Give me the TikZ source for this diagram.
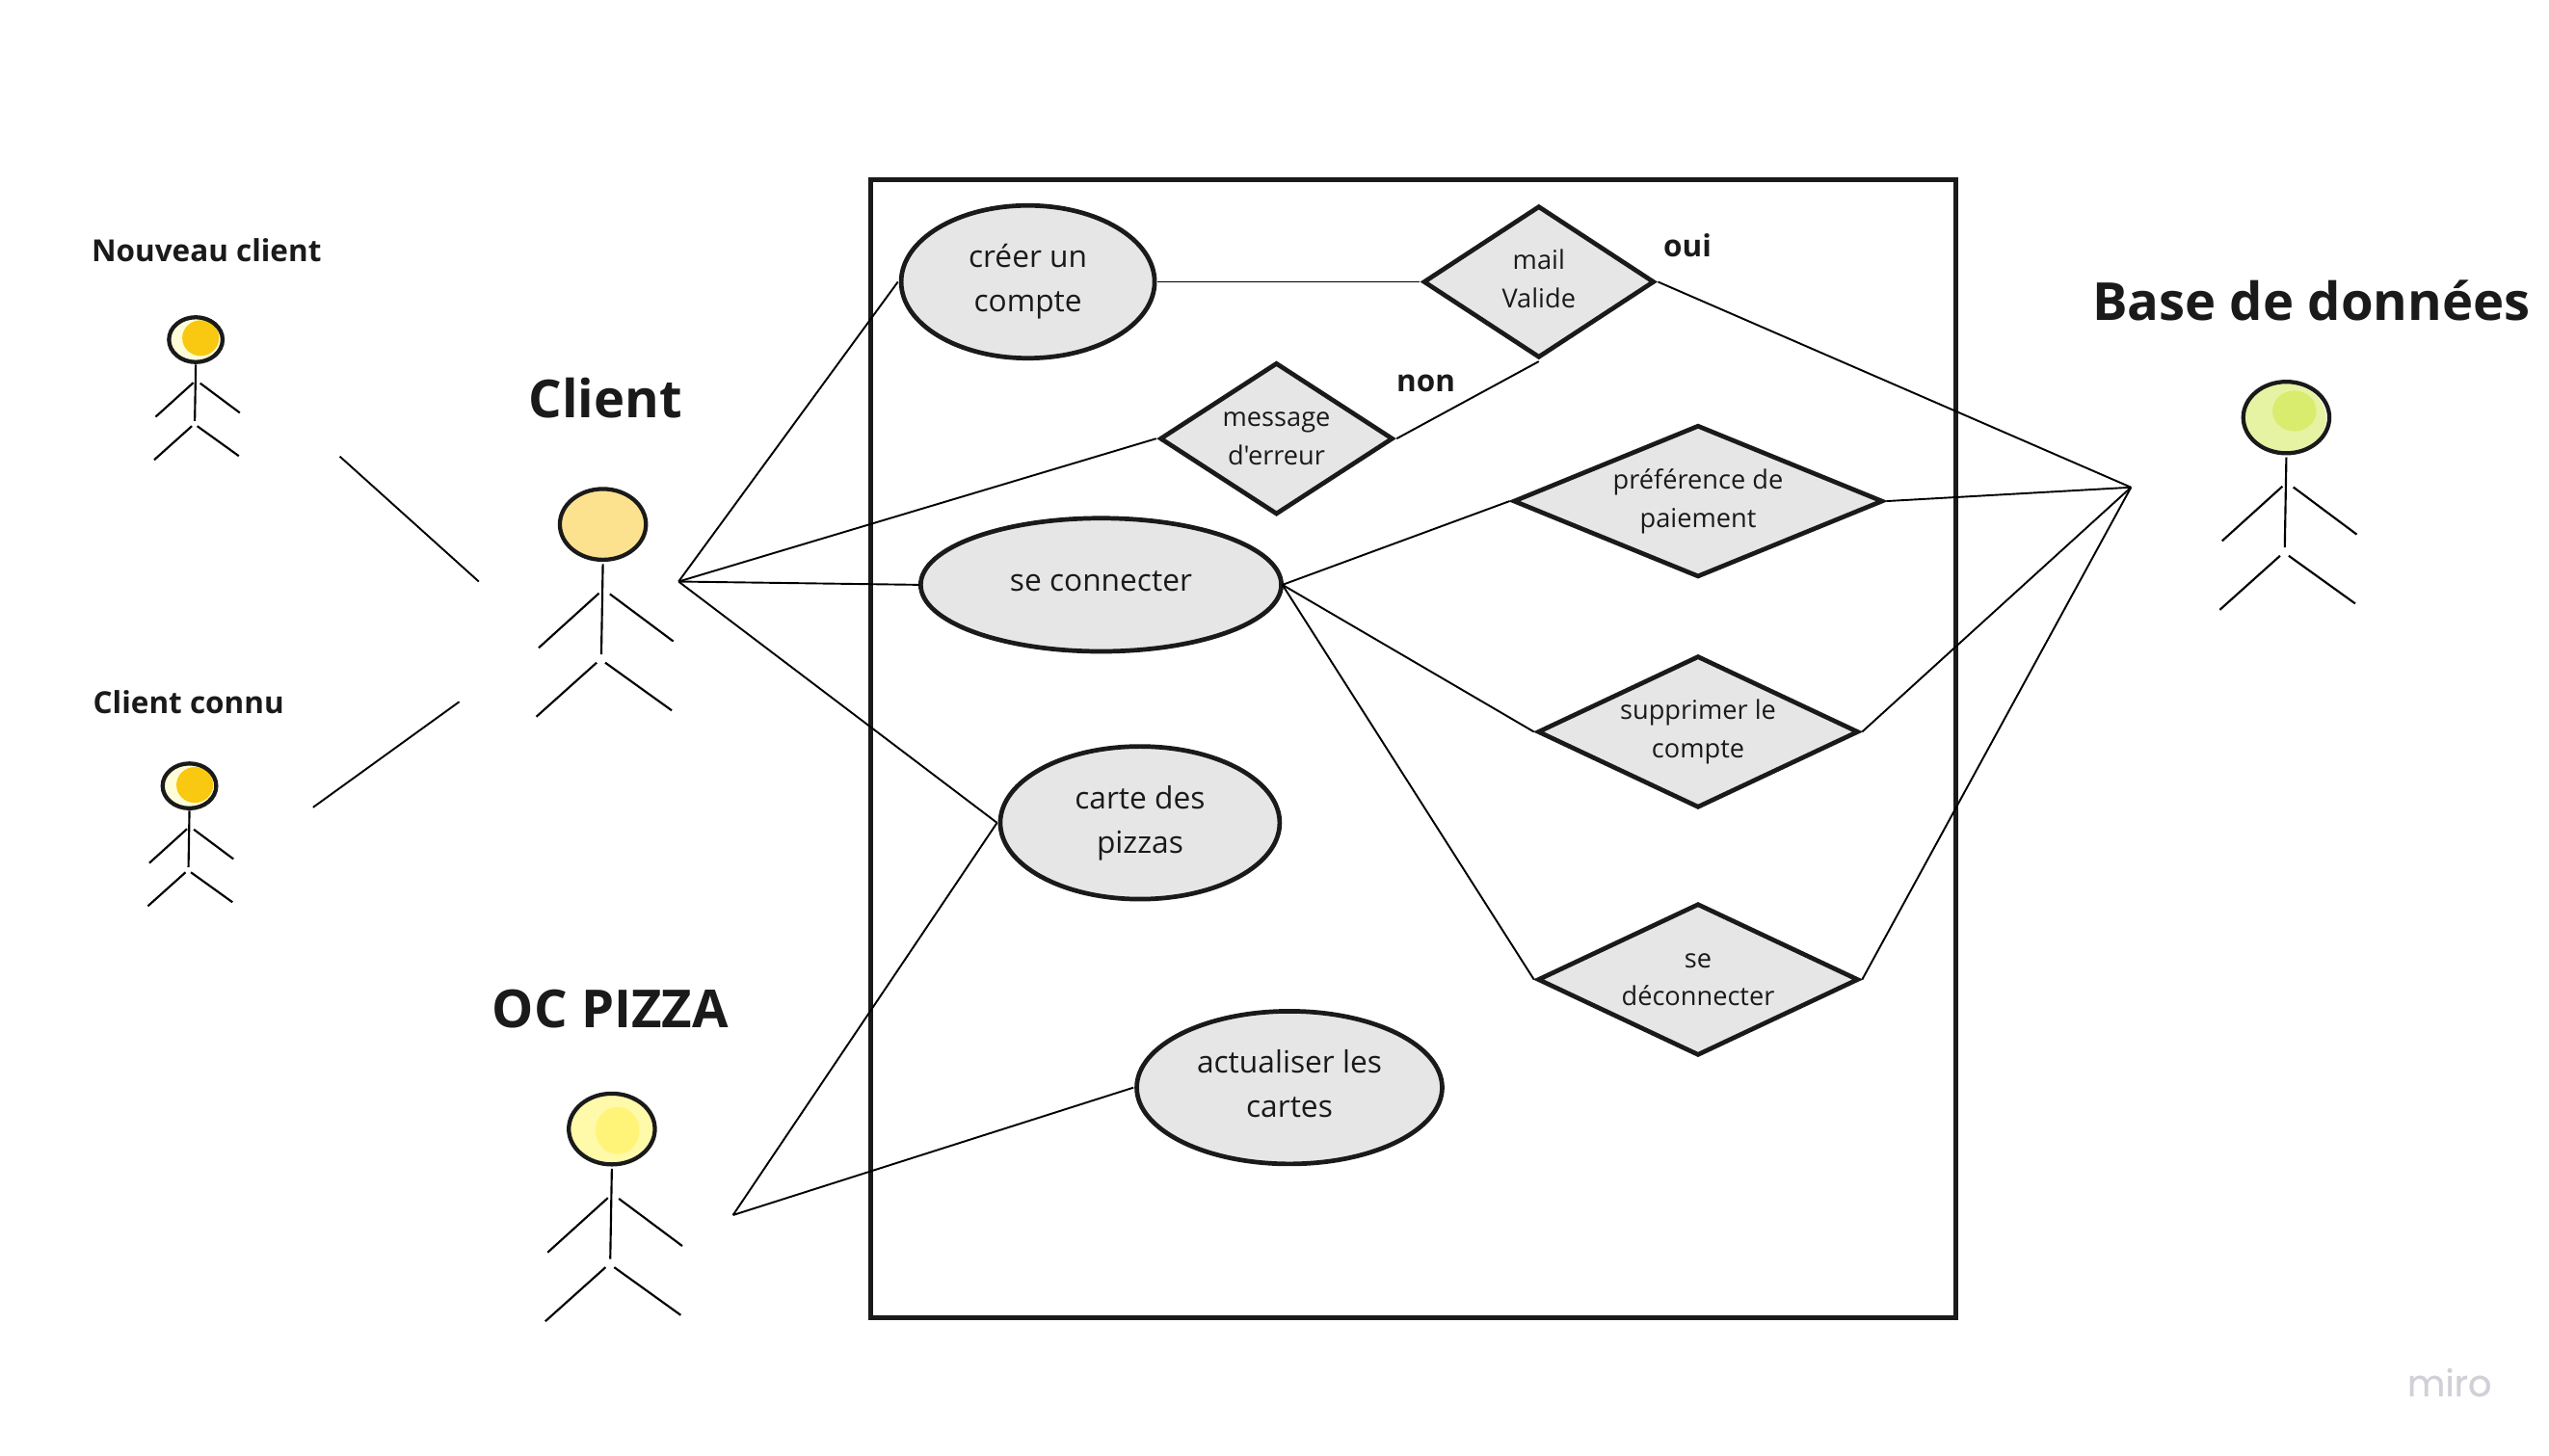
\documentclass[tikz,border=0pt]{standalone}
\usepackage{fontspec}
\setmainfont{Open Sans}
\newfontfamily\plainquote{Open Sans}
\newfontfamily\mirofont{Poppins}[FakeBold=0.5]
\usetikzlibrary{shapes.geometric}
\definecolor{inkblack}{HTML}{1A1A1A}
\definecolor{shapegrey}{HTML}{E6E6E6}
\tikzset{
  usecase/.style={ellipse,draw=inkblack,line width=2.1pt,fill=shapegrey,inner sep=0pt,outer sep=1.5pt,align=center,text=inkblack,font=\fontsize{14.1}{20.5}\selectfont},
  decision/.style={diamond,draw=inkblack,line width=2.1pt,fill=shapegrey,inner sep=0pt,outer sep=1.5pt,align=center,text=inkblack,aspect=2,font=\fontsize{12.1}{17.6}\selectfont},
  wire/.style={draw=black,line width=0.85pt},
  limb/.style={draw=black,line width=0.95pt},
  headline/.style={draw=inkblack,line width=1.9pt},
  smalltitle/.style={font=\fontsize{14}{16}\bfseries,text=inkblack,inner sep=0pt},
  bigtitle/.style={font=\fontsize{24.2}{28}\bfseries,text=inkblack,inner sep=0pt},
  pics/stickfig/.style={code={
    \draw[limb] (0,-15.3) -- (-0.6,-50);
    \draw[limb] (-1.5,-26.5) -- (-24.7,-47.5);
    \draw[limb] (2.7,-26.8) -- (27.1,-45);
    \draw[limb] (-2.4,-53.2) -- (-25.6,-74);
    \draw[limb] (0.9,-53.2) -- (26.5,-71.6);
  }}
}
\begin{document}
\begin{tikzpicture}[x=0.75pt,y=0.75pt,yscale=-1]
\useasboundingbox (-0.7,0) rectangle (1568.3,896);
\fill[white] (-0.7,0) rectangle (1568.3,896);

%Frame
\draw[inkblack,line width=2.2pt] (535.5,110.5) rectangle (1203,811);

%Use cases
\node[usecase,minimum width=117pt,minimum height=70.5pt] (creer) at (632,173.5) {créer un\\compte};
\node[usecase,outer sep=0.5pt,minimum width=166.5pt,minimum height=61.5pt] (connecter) at (677,360) {se connecter\vphantom{p}};
\node[usecase,minimum width=129pt,minimum height=70.5pt] (carte) at (701,506.5) {carte des\\pizzas};
\node[usecase,minimum width=141pt,minimum height=70.5pt] (actualiser) at (793,669.5) {actualiser les\\cartes\vphantom{p}};

%Decisions
\node[decision,minimum width=107pt,minimum height=70.5pt] (mail) at (946.5,173.5) {mail\\Valide\vphantom{p}};
\node[decision,aspect=1.6,minimum width=108pt,minimum height=70.5pt] (erreur) at (785,270) {message\\{\plainquote d'erreur}};
\node[decision,aspect=2.4,minimum width=171pt,minimum height=70.5pt] (paiement) at (1044.5,308.5) {préférence de\\paiement};
\node[decision,minimum width=148.5pt,minimum height=70.5pt] (supprimer) at (1044.5,450.5) {supprimer le\\compte};
\node[decision,minimum width=148.5pt,minimum height=70.5pt] (deconnecter) at (1044.5,603) {se\\déconnecter};

%Free ends of the connectors
\coordinate (hubclient) at (417,358);
\coordinate (hubpizza) at (450.5,748);
\coordinate (hubbase) at (1311,300);
\coordinate (nouveaufrom) at (208.5,281);
\coordinate (nouveauto) at (294,358);
\coordinate (connufrom) at (192,497);
\coordinate (connuto) at (282,432);

%Straight Lines
\draw[wire] (nouveaufrom) -- (nouveauto);
\draw[wire] (connufrom) -- (connuto);
\draw[wire] (hubclient) -- (creer.west);
\draw[wire] (hubclient) -- (erreur.west);
\draw[wire] (hubclient) -- (connecter.west);
\draw[wire] (hubclient) -- (carte.west);
\draw[wire] (hubpizza) -- (carte.west);
\draw[wire] (hubpizza) -- (actualiser.west);
\draw[wire] (creer.east) -- (mail.west);
\draw[wire] (mail.south) -- (erreur.east);
\draw[wire] (mail.east) -- (hubbase);
\draw[wire] (connecter.east) -- (paiement.west);
\draw[wire] (connecter.east) -- (supprimer.west);
\draw[wire] (connecter.east) -- (deconnecter.west);
\draw[wire] (paiement.east) -- (hubbase);
\draw[wire] (supprimer.east) -- (hubbase);
\draw[wire] (deconnecter.east) -- (hubbase);

%Actor: Nouveau client
\fill[yellow!15] (119.8,209.1) ellipse (16 and 13.5);
\fill[fill={rgb,255:red,249;green,200;blue,16}] (122.8,208.1) ellipse (11.3 and 11);
\draw[headline] (119.8,209.1) ellipse (16.5 and 13.8);
\pic at (119.8,209.1) {stickfig};

%Actor: Client connu
\fill[yellow!15] (115.9,483.8) ellipse (16 and 13.5);
\fill[fill={rgb,255:red,249;green,200;blue,16}] (119.2,483.2) ellipse (11.3 and 11);
\draw[headline] (115.9,483.8) ellipse (16.5 and 13.8);
\pic at (115.9,483.8) {stickfig};

%Actor: Client
\fill[fill={rgb,255:red,252;green,226;blue,143}] (370.4,322.8) ellipse (26.5 and 21.5);
\draw[headline] (370.4,322.8) ellipse (26.5 and 21.8);
\pic[scale=1.6] at (370.4,322.8) {stickfig};

%Actor: OC PIZZA
\fill[fill={rgb,255:red,255;green,249;blue,170}] (375.9,695) ellipse (26.5 and 21.5);
\fill[fill={rgb,255:red,255;green,244;blue,120}] (379.4,696) ellipse (13.5 and 14.5);
\draw[headline] (375.9,695) ellipse (26.5 and 21.8);
\pic[scale=1.6] at (375.9,695) {stickfig};

%Actor: Base de donnees
\fill[fill={rgb,255:red,230;green,243;blue,163}] (1405.6,257.5) ellipse (25.5 and 21.5);
\fill[fill={rgb,255:red,217;green,236;blue,110}] (1411.6,253) ellipse (13.5 and 12.5);
\draw[headline] (1406.6,257) ellipse (26.5 and 22);
\pic[scale=1.6] at (1406.6,257) {stickfig};

% Text Node
\node[smalltitle] (titlenouveau) at (126.4,154) {Nouveau client};
\node[smalltitle] (titleconnu) at (115.4,432) {Client connu};
\node[bigtitle] (titleclient) at (372,245) {Client};
\node[bigtitle] (titlepizza) at (375,621) {OC PIZZA};
\node[bigtitle] (titlebase) at (1422,185) {Base de données};
\node[smalltitle] (labeloui) at (1038,151) {oui};
\node[smalltitle] (labelnon) at (877,236) {non};
\node[inner sep=0pt,text={rgb,255:red,208;green,208;blue,216},font=\mirofont\fontsize{17}{20}\selectfont] (miromark) at (1507,851) {miro};
\end{tikzpicture}
\end{document}
